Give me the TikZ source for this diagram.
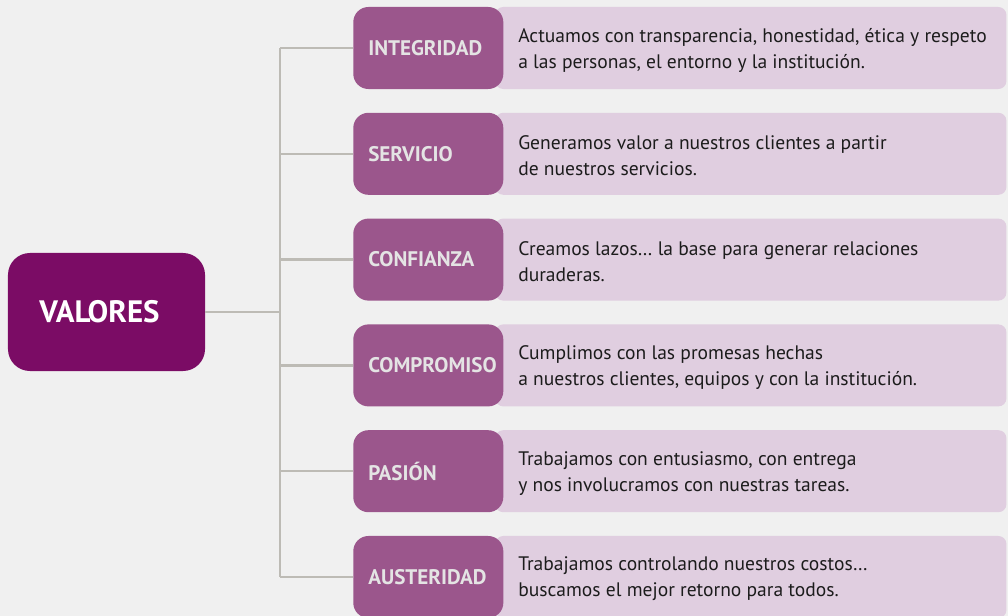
\documentclass[tikz,border=0pt]{standalone}
\usepackage{fontspec}
\setmainfont{PT Sans}
\usetikzlibrary{positioning}
\definecolor{valmain}{HTML}{7B0C65}
\definecolor{tagfill}{HTML}{9B568C}
\definecolor{descfill}{HTML}{E0CEE0}
\definecolor{pagebg}{HTML}{F0F0F0}
\definecolor{linkgrey}{HTML}{BDBBB5}
\definecolor{tagtext}{HTML}{E4E4E4}
\definecolor{desctext}{HTML}{1C1C1C}
\tikzset{
  valbox/.style={fill=valmain, rounded corners=0.55cm, minimum width=4.925cm,
    minimum height=2.95cm, text=white, font=\fontsize{22}{26}\selectfont\bfseries},
  tagbox/.style={fill=tagfill, rounded corners=0.38cm, minimum width=3.75cm,
    minimum height=2.05cm, text width=3.75cm, align=left, inner xsep=0pt,
    text=tagtext, font=\fontsize{15}{18}\selectfont\bfseries},
  descbox/.style={fill=descfill, rounded corners=0.2cm, minimum width=12.775cm,
    minimum height=2.05cm},
  desclabel/.style={align=left, inner sep=0pt, text=desctext,
    font=\fontsize{13.9}{18.5}\selectfont},
  link/.style={draw=linkgrey, line width=1.8pt}
}
\begin{document}
\begin{tikzpicture}[x=0.025cm, y=-0.025cm]
    % Background
    \fill[pagebg] (0,0) rectangle (1008,616);
    \useasboundingbox (0,0) rectangle (1008,616);

    % Main node
    \node[valbox] (valores) at (106.5,312) {\hspace*{-0.35cm}VALORES};

    % Rows
    \foreach \i/\tag/\lineA/\lineB in {
      1/INTEGRIDAD/{Actuamos con transparencia, honestidad, ética y respeto}/{a las personas, el entorno y la institución.},
      2/SERVICIO/{Generamos valor a nuestros clientes a partir}/{de nuestros servicios.},
      3/CONFIANZA/{Creamos lazos\dots{} la base para generar relaciones}/{duraderas.},
      4/COMPROMISO/{Cumplimos con las promesas hechas}/{a nuestros clientes, equipos y con la institución.},
      5/PASIÓN/{Trabajamos con entusiasmo, con entrega}/{y nos involucramos con nuestras tareas.},
      6/AUSTERIDAD/{Trabajamos controlando nuestros costos\dots}/{buscamos el mejor retorno para todos.}} {
      \pgfmathsetmacro{\rowy}{48+105.8*(\i-1)}
      \node[descbox, anchor=west] (d\i) at (495,\rowy) {};
      \node[tagbox, anchor=west] (g\i) at (353,\rowy) {\hspace*{0.375cm}\tag};
      \node[desclabel, anchor=west] (t\i) at (518,\rowy+2) {\lineA\\\lineB};
      \coordinate (j\i) at (280,\rowy);
      \draw[link] (j\i) -- (g\i.west);
    }

    % Trunk
    \draw[link] (j1) -- (j6);
    \draw[link] (valores.east) -- (valores.east -| j1);
\end{tikzpicture}
\end{document}
